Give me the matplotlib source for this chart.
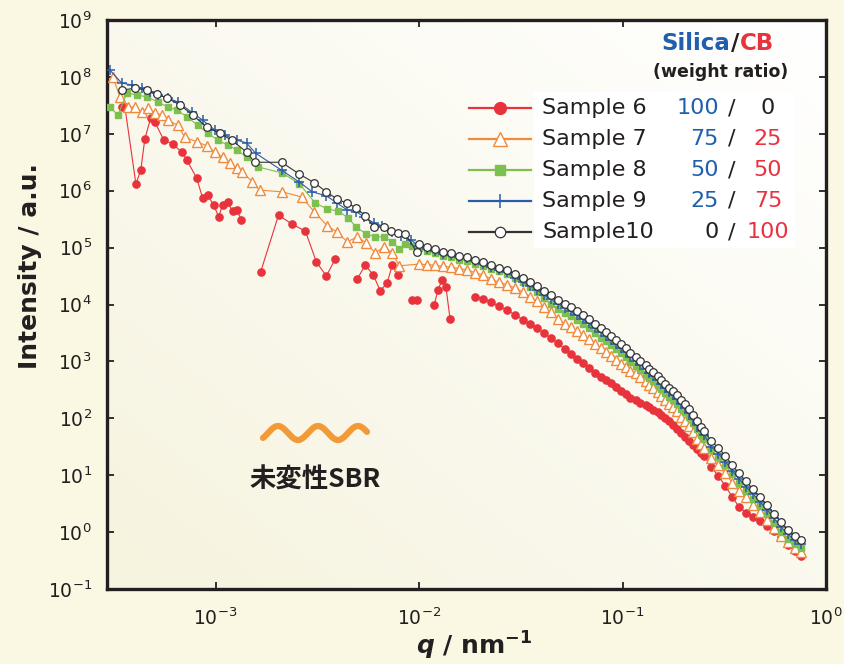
import numpy as np
import matplotlib
matplotlib.use("Agg")
import matplotlib.pyplot as plt
from matplotlib.ticker import LogLocator, NullLocator
from matplotlib.patches import Rectangle

nan = float("nan")

# all values are log10 readings taken off the log-log chart
# ---- low-q part (sparse, noisy) ----
lq_low6 = [-3.461, -3.446, -3.392, -3.368, -3.348, -3.319, -3.299, -3.255, -3.211, -3.167,
           -3.142, -3.093, -3.064, -3.039, -3.010, -2.985, -2.966, -2.941, -2.917, -2.897, -2.873, nan,
           -2.779, -2.691, -2.623, -2.559, -2.505, -2.456, -2.412, nan,
           -2.304, -2.265, -2.225, -2.191, -2.157, -2.132, -2.103, nan,
           -2.034, -2.010, nan,
           -1.926, -1.907, -1.887, -1.868, -1.848, nan]
lI_low6 = [7.47, 7.47, 6.12, 6.36, 6.91, 7.28, 7.21, 6.89, 6.82, 6.68,
           6.54, 6.22, 5.87, 5.92, 5.75, 5.54, 5.75, 5.80, 5.64, 5.66, 5.49, nan,
           4.57, 5.57, 5.41, 5.29, 4.75, 4.50, 4.80, nan,
           4.45, 4.69, 4.52, 4.24, 4.38, 4.69, 4.52, nan,
           4.08, 4.08, nan,
           3.99, 4.26, 4.43, 4.31, 3.75, nan]

lq_low7 = [-3.505, -3.471, -3.431, -3.397, -3.363, -3.333, -3.299, -3.265, -3.235, -3.186,
           -3.152, -3.093, -3.044, -3.005, -2.966, -2.931, -2.897, -2.868, -2.819, -2.784,
           -2.672, -2.578, -2.515, -2.451, -2.402, -2.353, -2.304, -2.260, -2.216, -2.172,
           -2.132, -2.098]
lI_low7 = [8.00, 7.65, 7.47, 7.47, 7.38, 7.45, 7.37, 7.33, 7.24, 7.15,
           6.94, 6.86, 6.79, 6.68, 6.59, 6.49, 6.40, 6.33, 6.15, 6.01,
           5.98, 5.89, 5.63, 5.38, 5.27, 5.10, 5.19, 5.08, 4.91, 5.01,
           4.91, 4.68]

lq_low8 = [-3.520, -3.480, -3.436, -3.387, -3.338, -3.284, -3.235, -3.191, -3.142, -3.088,
           -3.039, -2.990, -2.941, -2.897, -2.848, -2.794, -2.672, -2.588, -2.510, -2.451,
           -2.397, -2.348, -2.309, -2.260, -2.216, -2.172, -2.132, -2.098, -2.069, -2.034]
lI_low8 = [7.47, 7.33, 7.72, 7.68, 7.65, 7.56, 7.47, 7.42, 7.30, 7.15,
           7.01, 6.89, 6.80, 6.72, 6.59, 6.42, 6.31, 6.12, 5.78, 5.68,
           5.64, 5.52, 5.36, 5.24, 5.19, 5.19, 5.10, 4.98, 5.06, 5.03]

lq_low9 = [-3.520, -3.461, -3.412, -3.363, -3.324, -3.284, -3.235, -3.186, -3.118, -3.064,
           -3.005, -2.956, -2.897, -2.848, -2.804, -2.676, -2.588, -2.525, -2.456, -2.402,
           -2.353, -2.309, -2.270, -2.221, -2.181, -2.132, -2.088, -2.039]
lI_low9 = [8.12, 7.89, 7.86, 7.80, 7.73, 7.68, 7.63, 7.56, 7.38, 7.24,
           7.07, 6.98, 6.89, 6.84, 6.66, 6.36, 6.15, 5.98, 5.91, 5.78,
           5.66, 5.63, 5.54, 5.43, 5.38, 5.27, 5.20, 5.13]

lq_low10 = [-3.461, -3.397, -3.338, -3.289, -3.240, -3.176, -3.113, -3.044, -2.980, -2.922,
            -2.848, -2.809, -2.676, -2.588, -2.515, -2.456, -2.402, -2.353, -2.309, -2.265,
            -2.221, -2.172, -2.137, -2.103, -2.069, -2.010]
lI_low10 = [7.77, 7.80, 7.77, 7.70, 7.63, 7.51, 7.33, 7.12, 7.01, 6.89,
            6.68, 6.50, 6.50, 6.29, 6.14, 5.98, 5.85, 5.78, 5.70, 5.56,
            5.36, 5.36, 5.29, 5.26, 5.24, 4.92]

# ---- high-q part (dense) ----
lq_high = [-2.000, -1.961, -1.922, -1.882, -1.843, -1.804, -1.765, -1.726, -1.686, -1.647,
           -1.608, -1.569, -1.529, -1.490, -1.456, -1.422, -1.387, -1.353, -1.319, -1.284,
           -1.255, -1.226, -1.196, -1.167, -1.137, -1.108, -1.083, -1.059, -1.034, -1.010,
           -0.985, -0.961, -0.936, -0.912, -0.887, -0.868, -0.848, -0.828, -0.809, -0.789,
           -0.770, -0.750, -0.730, -0.711, -0.691, -0.672, -0.652, -0.632, -0.613, -0.598,
           -0.564, -0.529, -0.495, -0.461, -0.427, -0.392, -0.358, -0.324, -0.289, -0.255,
           -0.221, -0.186, -0.152, -0.123]

# sample 6 starts at the 8th high-q point
lI_high6 = [4.13, 4.10, 4.04, 3.97, 3.90, 3.82, 3.73, 3.66, 3.59, 3.50,
            3.41, 3.32, 3.22, 3.13, 3.04, 2.97, 2.88, 2.80, 2.73, 2.67,
            2.62, 2.55, 2.48, 2.43, 2.36, 2.32, 2.27, 2.23, 2.20, 2.15,
            2.11, 2.06, 2.01, 1.95, 1.88, 1.81, 1.74, 1.67, 1.60, 1.53,
            1.46, 1.39, 1.34,
            1.14, 0.99, 0.81, 0.62, 0.44, 0.34, 0.27, 0.20, 0.11, 0.02, -0.09, -0.23, -0.33, -0.42]
lI_high7 = [4.71, 4.70, 4.69, 4.67, 4.66, 4.63, 4.61, 4.56, 4.52, 4.45,
            4.39, 4.35, 4.29, 4.22, 4.14, 4.06, 3.95, 3.86, 3.75, 3.66,
            3.60, 3.53, 3.46, 3.39, 3.31, 3.23, 3.17, 3.10, 3.03, 2.96,
            2.90, 2.84, 2.79, 2.73, 2.65, 2.59, 2.53, 2.46, 2.39, 2.32,
            2.26, 2.20, 2.12, 2.03, 1.95, 1.86, 1.76, 1.64, 1.54, 1.47,
            1.30, 1.18, 1.03, 0.87, 0.73, 0.61, 0.48, 0.35, 0.22, 0.08,
            -0.06, -0.18, -0.28, -0.35]
lI_high8 = [4.99, 4.94, 4.90, 4.85, 4.83, 4.79, 4.77, 4.72, 4.68, 4.63,
            4.59, 4.54, 4.47, 4.40, 4.31, 4.22, 4.11, 4.01, 3.92, 3.85,
            3.79, 3.72, 3.65, 3.58, 3.50, 3.42, 3.36, 3.29, 3.22, 3.15,
            3.07, 2.99, 2.92, 2.85, 2.77, 2.71, 2.65, 2.58, 2.51, 2.44,
            2.38, 2.32, 2.25, 2.17, 2.11, 2.02, 1.92, 1.81, 1.71, 1.64,
            1.44, 1.32, 1.18, 1.02, 0.87, 0.73, 0.59, 0.45, 0.31, 0.16,
            0.01, -0.12, -0.21, -0.28]
lI_high9 = [5.03, 4.98, 4.94, 4.89, 4.87, 4.83, 4.81, 4.76, 4.72, 4.66,
            4.61, 4.57, 4.47, 4.40, 4.33, 4.26, 4.17, 4.10, 4.01, 3.94,
            3.88, 3.81, 3.74, 3.67, 3.59, 3.51, 3.45, 3.38, 3.31, 3.24,
            3.16, 3.08, 3.01, 2.94, 2.86, 2.80, 2.74, 2.67, 2.60, 2.53,
            2.47, 2.41, 2.34, 2.26, 2.18, 2.09, 1.99, 1.88, 1.78, 1.70,
            1.50, 1.38, 1.24, 1.08, 0.93, 0.79, 0.67, 0.53, 0.39, 0.24,
            0.09, -0.04, -0.14, -0.21]
lI_high10 = [5.06, 5.01, 4.97, 4.92, 4.90, 4.86, 4.84, 4.79, 4.75, 4.69,
             4.64, 4.60, 4.54, 4.47, 4.40, 4.33, 4.24, 4.17, 4.08, 4.01,
             3.95, 3.88, 3.81, 3.74, 3.66, 3.58, 3.52, 3.45, 3.38, 3.31,
             3.23, 3.15, 3.08, 3.01, 2.93, 2.87, 2.81, 2.74, 2.67, 2.60,
             2.54, 2.48, 2.41, 2.33, 2.25, 2.16, 2.06, 1.95, 1.85, 1.78,
             1.60, 1.48, 1.34, 1.18, 1.03, 0.89, 0.75, 0.61, 0.47, 0.32,
             0.17, 0.04, -0.06, -0.14]

labels = ["Sample 6", "Sample 7", "Sample 8", "Sample 9", "Sample10"]
silica = ["100", "75", "50", "25", "0"]
cb = ["0", "25", "50", "75", "100"]

BLUE = "#1f5fae"
RED = "#e8333f"
INK = "#231f20"

plt.rcParams["font.family"] = ["DejaVu Sans"]
plt.rcParams["mathtext.fontset"] = "custom"
plt.rcParams["mathtext.rm"] = "DejaVu Sans"
plt.rcParams["mathtext.it"] = "DejaVu Sans:italic:bold"
plt.rcParams["mathtext.bf"] = "DejaVu Sans:bold"

fig = plt.figure(figsize=(8.44, 6.64), dpi=100, facecolor="#faf7e2")
pos = [107 / 844, 1 - 589 / 664, 719 / 844, 569 / 664]

# soft diagonal background inside the plot area
bg = fig.add_axes(pos, zorder=0)
yy, xx = np.mgrid[0:1:200j, 0:1:200j]
t = ((1 - xx) + yy) / 2
c0 = np.array([1.0, 1.0, 1.0])
c1 = np.array([246, 243, 222]) / 255
grad = c0 * (1 - t[..., None]) + c1 * t[..., None]
bg.imshow(grad, aspect="auto", extent=[0, 1, 0, 1])
bg.axis("off")

ax = fig.add_axes(pos, zorder=1)
ax.set_facecolor("none")

styles = [
    dict(color="#e8323c", marker="o", ms=5.2, mfc="#e8323c", mec="#e8323c", lw=0.8),
    dict(color="#f08a3c", marker="^", ms=6.5, mfc="white", mec="#f08a3c", mew=1.0, lw=0.8),
    dict(color="#7dc050", marker="s", ms=4.6, mfc="#7dc050", mec="#7dc050", lw=0.8),
    dict(color="#2a5caa", marker="+", ms=7, mew=1.1, lw=0.8),
    dict(color="#333333", marker="o", ms=5.5, mfc="white", mec="#333333", mew=0.9, lw=0.8),
]

series = [
    (lq_low6 + lq_high[7:], lI_low6 + lI_high6),
    (lq_low7 + lq_high, lI_low7 + lI_high7),
    (lq_low8 + lq_high, lI_low8 + lI_high8),
    (lq_low9 + lq_high, lI_low9 + lI_high9),
    (lq_low10 + lq_high, lI_low10 + lI_high10),
]

order = [0, 1, 2, 4, 3]
for k in order:
    lq, lI = series[k]
    ax.plot(10 ** np.array(lq), 10 ** np.array(lI), zorder=3 + k, **styles[k])

ax.set_xscale("log")
ax.set_yscale("log")
ax.set_xlim(10 ** -3.534, 1)
ax.set_ylim(1e-1, 1e9)
ax.xaxis.set_major_locator(LogLocator(base=10, numticks=20))
ax.yaxis.set_major_locator(LogLocator(base=10, numticks=20))
ax.xaxis.set_minor_locator(NullLocator())
ax.yaxis.set_minor_locator(NullLocator())
ax.tick_params(which="major", direction="in", length=5, width=1.3, top=True, right=True,
               labelsize=13.5, colors=INK)
ax.tick_params(axis="x", pad=13)
ax.tick_params(axis="y", pad=11)
for s in ax.spines.values():
    s.set_linewidth(2.4)
    s.set_color(INK)

# axis titles
fig.text(30 / 844, 1 - 266 / 664, "Intensity / a.u.", rotation=90, ha="center", va="center",
         fontsize=18, fontweight="bold", color=INK)
fig.text(474 / 844, 1 - 646 / 664, r"$\mathit{q}$$\mathbf{\ /\ nm^{-1}}$", ha="center", va="center",
         fontsize=18, color=INK)

# legend drawn by hand
def fx(px):
    return (px - 107) / 719

def fy(py):
    return (589 - py) / 569

ax.add_patch(Rectangle((fx(534), fy(248)), fx(795) - fx(534), fy(92) - fy(248),
                       transform=ax.transAxes, facecolor="white", edgecolor="none", zorder=2))

leg_ms = [8.5, 10, 6.5, 10, 7.5]
row_y = [108, 139, 170, 201, 232]
for k in range(5):
    y = fy(row_y[k])
    st = dict(styles[k])
    st["ms"] = leg_ms[k]
    ax.plot([fx(469), fx(531)], [y, y], transform=ax.transAxes, clip_on=False,
            zorder=10, color=st["color"], lw=1.6)
    ax.plot([fx(500)], [y], transform=ax.transAxes, clip_on=False, zorder=11,
            linestyle="none", **{kk: v for kk, v in st.items() if kk not in ("lw", "color")},
            color=st["color"])
    ax.text(fx(542), y, labels[k], transform=ax.transAxes, ha="left", va="center",
            fontsize=16, color=INK, zorder=12)
    ax.text(fx(719), y, silica[k], transform=ax.transAxes, ha="right", va="center",
            fontsize=16, color=BLUE if silica[k] != "0" else INK, zorder=12)
    ax.text(fx(732), y, "/", transform=ax.transAxes, ha="center", va="center",
            fontsize=16, color=INK, zorder=12)
    ax.text(fx(768), y, cb[k], transform=ax.transAxes, ha="center", va="center",
            fontsize=16, color=RED if cb[k] != "0" else INK, zorder=12)

ax.text(fx(730), fy(43), "Silica", transform=ax.transAxes, ha="right", va="center",
        fontsize=16.5, fontweight="bold", color=BLUE)
ax.text(fx(735), fy(43), "/", transform=ax.transAxes, ha="center", va="center",
        fontsize=16.5, fontweight="bold", color=INK)
ax.text(fx(740), fy(43), "CB", transform=ax.transAxes, ha="left", va="center",
        fontsize=16.5, fontweight="bold", color=RED)
ax.text(fx(721), fy(72), "(weight ratio)", transform=ax.transAxes, ha="center", va="center",
        fontsize=12.5, fontweight="bold", color=INK)

# polymer chain icon and caption
wx = np.linspace(263, 367, 200)
wy = 433 - 7 * np.cos(2 * np.pi * (wx - 278) / 40)
ax.plot(fx(wx), fy(wy), transform=ax.transAxes, color="#f39a38", lw=4.5,
        solid_capstyle="round", zorder=5)
ax.text(fx(315), fy(480), "未変性SBR", transform=ax.transAxes, ha="center", va="center",
        fontsize=19, fontweight="bold", color=INK,
        family=["Noto Sans CJK JP", "DejaVu Sans"], zorder=5)

fig.savefig("out.png", dpi=100, facecolor=fig.get_facecolor())
